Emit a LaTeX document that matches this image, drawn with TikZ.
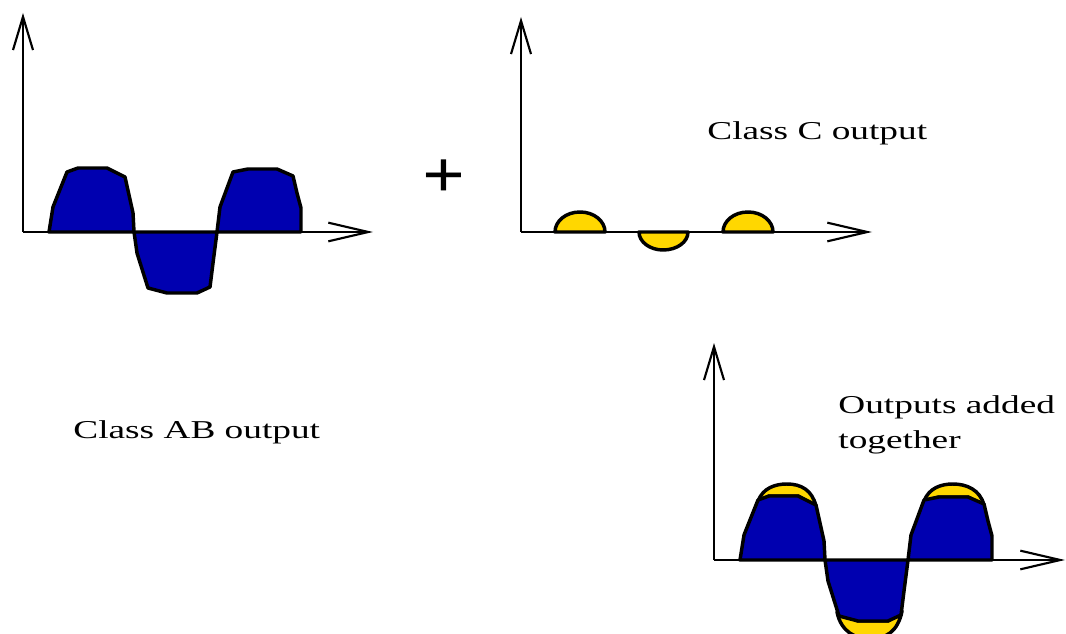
\documentclass[tikz,border=0pt]{standalone}
\usepackage{fontspec}
\setmainfont{Liberation Serif}
\usetikzlibrary{arrows.meta}
\definecolor{lobeblue}{RGB}{0,0,176}
\definecolor{capgold}{RGB}{255,215,0}

\begin{document}
\begin{tikzpicture}[x=0.75pt,y=-0.75pt,line join=round,
  axis/.style={line width=1.6pt},
  xarrow/.style={-{Straight Barb[length=30pt,width=14pt]}},
  yarrow/.style={-{Straight Barb[length=25pt,width=15pt]}},
  lobe/.style={fill=lobeblue,draw=black,line width=2.6pt},
  goldcap/.style={fill=capgold,draw=black,line width=2.6pt},
  lbl/.style={font=\fontsize{19.3}{26}\selectfont,xscale=1.45,inner sep=0pt,anchor=base west}]
\clip (0,0) rectangle (1066,634);
% class AB output
\draw[lobe] (49,232) -- (53,207) -- (67,172) -- (78,168) -- (107,168) -- (125,177) -- (133,213) -- (134,232) -- cycle;
\draw[lobe] (134,232) -- (137,253) -- (148,288) -- (167,293) -- (197,293) -- (210,287) -- (213,263) -- (217,232) -- cycle;
\draw[lobe] (217,232) -- (220,207) -- (233,172) -- (248,169) -- (277,169) -- (293,176) -- (297,193) -- (301,208) -- (301,232) -- cycle;
\draw[axis,yarrow] (23,232) -- (23,13);
\draw[axis,xarrow] (23,232) -- (373,232);
\node[lbl] (abtext) at (73,438) {Class AB output};
\node[font=\fontsize{50}{50}\selectfont\bfseries,xscale=1.13,inner sep=0pt] (plus) at (444,179) {+};
% class C output
\draw[goldcap] (555,232) .. controls (555,221) and (566,212) .. (580,212) .. controls (594,212) and (605,221) .. (605,232) -- cycle;
\draw[goldcap] (639,232) .. controls (639,242) and (650,250) .. (663,250) .. controls (677,250) and (688,242) .. (688,232) -- cycle;
\draw[goldcap] (723,232) .. controls (723,221) and (734,212) .. (748,212) .. controls (762,212) and (773,221) .. (773,232) -- cycle;
\draw[axis,yarrow] (521,232) -- (521,17);
\draw[axis,xarrow] (521,232) -- (872,232);
\node[lbl] (ctext) at (707,140) {Class C output};
% outputs added together
\begin{scope}[shift={(691,328)}]
\draw[goldcap] (67,173) .. controls (72,160) and (84,156) .. (96,156) .. controls (110,156) and (121,162) .. (125,178) -- (107,168) -- (78,168) -- cycle;
\draw[goldcap] (146,284) .. controls (150,304) and (165,311) .. (179,311) .. controls (194,311) and (207,304) .. (211,283) -- (197,293) -- (167,293) -- cycle;
\draw[goldcap] (233,173) .. controls (238,160) and (250,156) .. (262,156) .. controls (276,156) and (289,162) .. (293,177) -- (277,169) -- (248,169) -- cycle;
\draw[lobe] (49,232) -- (53,207) -- (67,172) -- (78,168) -- (107,168) -- (125,177) -- (133,213) -- (134,232) -- cycle;
\draw[lobe] (134,232) -- (137,253) -- (148,288) -- (167,293) -- (197,293) -- (210,287) -- (213,263) -- (217,232) -- cycle;
\draw[lobe] (217,232) -- (220,207) -- (233,172) -- (248,169) -- (277,169) -- (293,176) -- (297,193) -- (301,208) -- (301,232) -- cycle;
\draw[axis,yarrow] (23,232) -- (23,15);
\draw[axis,xarrow] (23,232) -- (374,232);
\end{scope}
\node[lbl,align=left] (sumtext) at (838,448) {Outputs added\\together};
\end{tikzpicture}
\end{document}
